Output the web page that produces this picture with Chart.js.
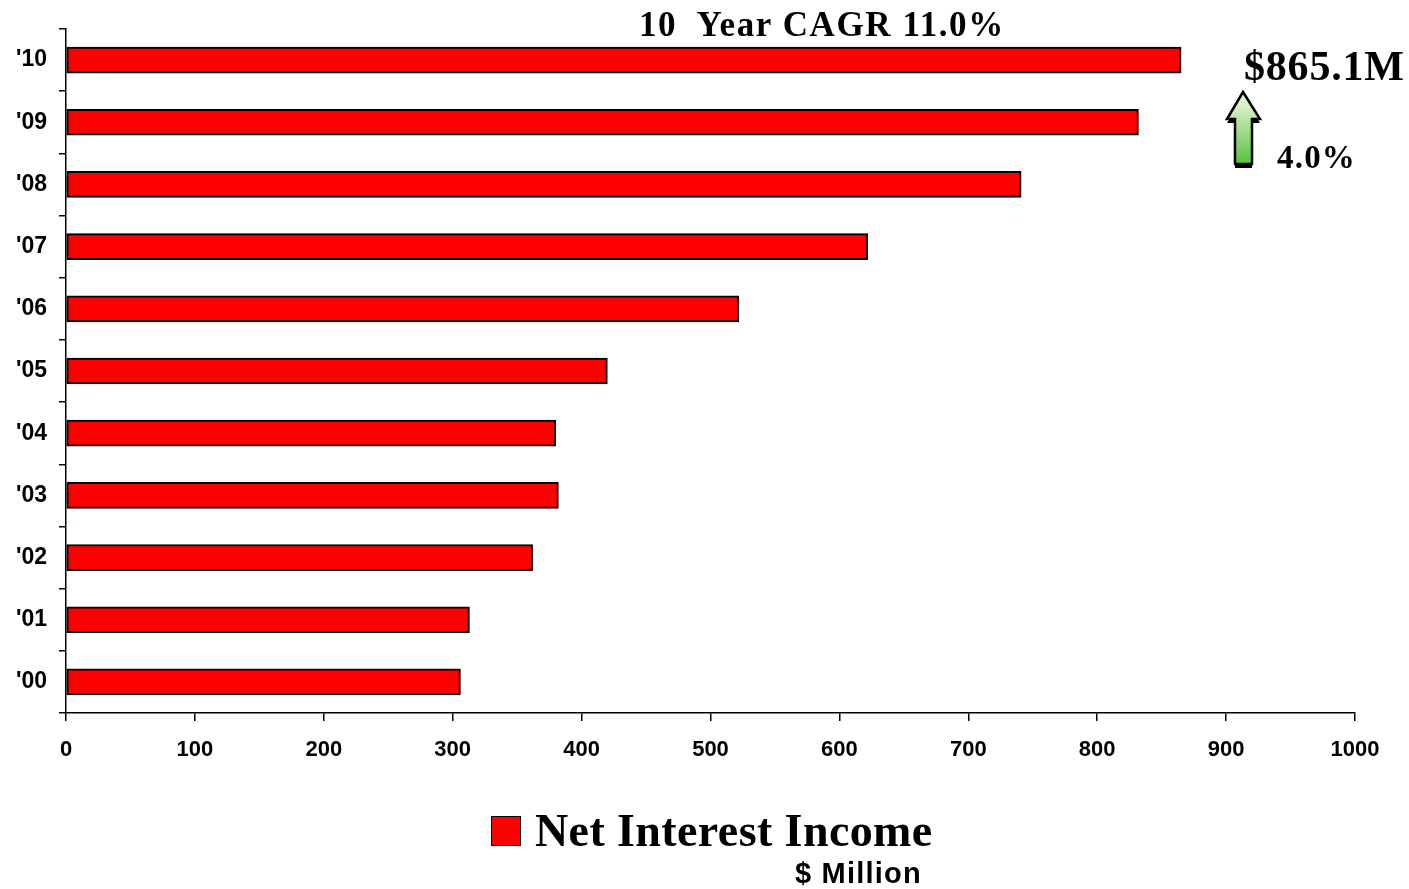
<!DOCTYPE html>
<html>
<head>
<meta charset="utf-8">
<script src="https://cdn.jsdelivr.net/npm/chart.js@4"></script>
<style>
  html, body { margin: 0; padding: 0; background: #fff; }
  #wrap { position: relative; width: 1409px; height: 889px; }
  #chart { position: absolute; left: 0; top: 0; }
  .note { position: absolute; font-family: "Liberation Serif", "Times New Roman", serif; font-weight: bold; color: #000; white-space: nowrap; line-height: 1; }
  #title { left: 639px; top: 7px; font-size: 35px; letter-spacing: 1.6px; }
  #total { left: 1244px; top: 45px; font-size: 42px; letter-spacing: 0.8px; }
  #growth { left: 1277px; top: 141px; font-size: 33px; letter-spacing: 1.2px; }
  #legend { left: 491px; top: 808px; font-size: 46px; display: flex; align-items: center; letter-spacing: 0.4px; }
  #legend .box { width: 28px; height: 28px; background: #ff0000; border: 1.5px solid #000; margin-right: 14px; }
  #unit { position: absolute; left: 795px; top: 857px; font-family: "Liberation Sans", Arial, sans-serif; font-weight: bold; font-size: 29px; letter-spacing: 1.2px; }
  #arrow { position: absolute; left: 1221px; top: 89px; }
</style>
</head>
<body>
<div id="wrap">
  <canvas id="chart" width="1409" height="889"></canvas>
  <div class="note" id="title">10&nbsp; Year CAGR 11.0%</div>
  <div class="note" id="total">$865.1M</div>
  <div class="note" id="growth">4.0%</div>
  <svg id="arrow" width="46" height="82" viewBox="0 0 46 82">
    <defs>
      <linearGradient id="g" x1="0" y1="0" x2="0" y2="1">
        <stop offset="0" stop-color="#f6fbe2"/>
        <stop offset="1" stop-color="#58c040"/>
      </linearGradient>
    </defs>
    <polygon points="22,7 39,34 31,34 31,79 14,79 14,34 6,34" fill="#000"/>
    <polygon points="22,3 39,30 31,30 31,75 14,75 14,30 6,30" fill="url(#g)" stroke="#000" stroke-width="2.5" stroke-linejoin="miter"/>
  </svg>
  <div class="note" id="legend"><div class="box"></div>Net Interest Income</div>
  <div id="unit">$ Million</div>
</div>
<script>
// Datos (cronológico, se dibuja de abajo hacia arriba)
const years = ["'00", "'01", "'02", "'03", "'04", "'05", "'06", "'07", "'08", "'09", "'10"];
const netInterestIncome = [306, 313, 362, 382, 380, 420, 522, 622, 741, 832, 865.1];
const xTicks = [0, 100, 200, 300, 400, 500, 600, 700, 800, 900, 1000];

const ctx = document.getElementById('chart').getContext('2d');

const chart = new Chart(ctx, {
    type: 'bar',
    data: {
        labels: years,
        datasets: [{
            label: 'Net Interest Income',
            data: netInterestIncome,
            backgroundColor: '#ff0000',
            borderColor: '#000000',
            borderWidth: 2,
            borderSkipped: false,
            barThickness: 26
        }]
    },
    options: {
        indexAxis: 'y',
        responsive: false,
        animation: false,
        layout: { padding: { top: 29, right: 54, bottom: 116, left: 0 } },
        scales: {
            x: {
                min: 0,
                max: 1000,
                afterBuildTicks: (scale) => { scale.ticks = xTicks.map(v => ({ value: v })); },
                afterFit: (scale) => { scale.height = 60; },
                grid: { drawOnChartArea: false, color: '#000', tickLength: 8, lineWidth: 1.5 },
                border: { color: '#000', width: 1.5 },
                ticks: {
                    color: '#000',
                    padding: 16,
                    maxRotation: 0,
                    callback: (v) => String(v),
                    font: { family: 'Liberation Sans, Arial, sans-serif', size: 22, weight: 'bold' }
                }
            },
            y: {
                reverse: true,
                afterFit: (scale) => { scale.width = 66; },
                grid: { drawOnChartArea: false, color: '#000', tickLength: 7, lineWidth: 1.5, offset: true },
                border: { color: '#000', width: 1.5 },
                ticks: {
                    color: '#000',
                    padding: 12,
                    font: { family: 'Liberation Sans, Arial, sans-serif', size: 23, weight: 'bold' }
                }
            }
        },
        plugins: {
            legend: { display: false },
            tooltip: { enabled: false }
        }
    }
});
</script>
</body>
</html>
